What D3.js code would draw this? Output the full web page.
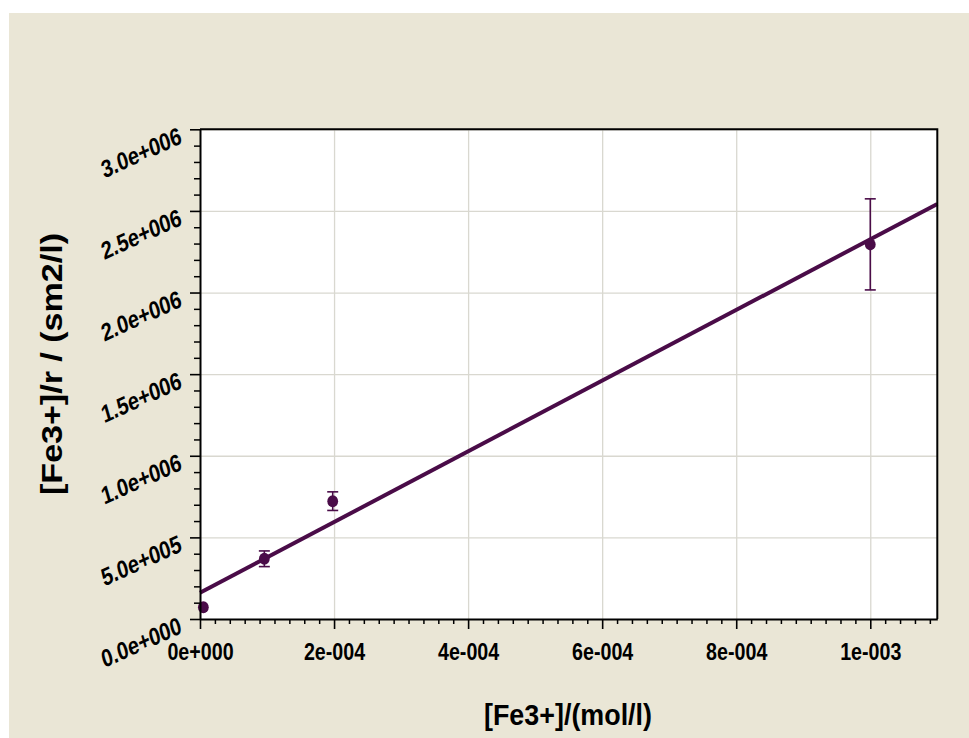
<!DOCTYPE html>
<html>
<head>
<meta charset="utf-8">
<script src="https://cdn.jsdelivr.net/npm/d3@7"></script>
<style>
  html, body { margin: 0; padding: 0; background: #ffffff; }
  svg { display: block; }
  text { font-family: "Liberation Sans", Arial, sans-serif; font-weight: bold; fill: #000; }
</style>
</head>
<body>
<script>
// Measured points: Fe3+ concentration vs [Fe3+]/r, with standard deviations
const concentrations = [5e-6, 9.6e-5, 1.98e-4, 1e-3];
const ratios = [0.072e6, 0.369e6, 0.722e6, 2.295e6];
const ratioErrors = [0, 0.048e6, 0.057e6, 0.279e6];

// Linear fit: ratio = intercept + slope * concentration
const fitIntercept = 1.61e5;
const fitSlope = 2.165e9;

const xTicks = [0, 2e-4, 4e-4, 6e-4, 8e-4, 1e-3];
const xTickLabels = ["0e+000", "2e-004", "4e-004", "6e-004", "8e-004", "1e-003"];
const yTicks = [0, 0.5e6, 1.0e6, 1.5e6, 2.0e6, 2.5e6, 3.0e6];
const yTickLabels = ["0.0e+000", "5.0e+005", "1.0e+006", "1.5e+006", "2.0e+006", "2.5e+006", "3.0e+006"];

const xDomain = [0, 1.1e-3];
const yDomain = [0, 3.0e6];

const W = 969, H = 738;
const plot = { left: 200, top: 129.3, right: 937.3, bottom: 619 };
const ink = "#4a0c48";

const svg = d3.select("body").append("svg").attr("width", W).attr("height", H);

// page background panel
svg.append("rect").attr("x", 9).attr("y", 13).attr("width", W - 9).attr("height", H - 13)
  .attr("fill", "#eae6d6");
svg.append("rect").attr("x", plot.left).attr("y", plot.top)
  .attr("width", plot.right - plot.left).attr("height", plot.bottom - plot.top)
  .attr("fill", "#ffffff");

const x = d3.scaleLinear().domain(xDomain).range([plot.left, plot.right]);
const y = d3.scaleLinear().domain(yDomain).range([plot.bottom, plot.top]);

// grid lines
svg.append("g").attr("transform", `translate(0,${plot.bottom})`)
  .call(d3.axisBottom(x).tickValues(xTicks.filter(d => d > 0)).tickSize(-(plot.bottom - plot.top)).tickFormat(""))
  .call(g => g.select(".domain").remove())
  .call(g => g.selectAll("line").attr("stroke", "#d9d8d0").attr("stroke-width", 1.3));
svg.append("g").attr("transform", `translate(${plot.left},0)`)
  .call(d3.axisLeft(y).tickValues(yTicks.filter(d => d > 0)).tickSize(-(plot.right - plot.left)).tickFormat(""))
  .call(g => g.select(".domain").remove())
  .call(g => g.selectAll("line").attr("stroke", "#d9d8d0").attr("stroke-width", 1.3));

// minor tick positions: nine steps between x majors, five between y majors
const xMinor = [];
for (let m = 0; m < xDomain[1]; m += 2e-4) {
  for (let k = 1; k < 9; k++) {
    const v = m + k * 2e-4 / 9;
    if (v < xDomain[1]) xMinor.push(v);
  }
}
const yMinor = [];
for (let m = 0; m < yDomain[1]; m += 0.5e6) {
  for (let k = 1; k < 5; k++) yMinor.push(m + k * 1e5);
}

// fitted line
const fitLine = d3.line().x(d => x(d)).y(d => y(fitIntercept + fitSlope * d));
svg.append("path").datum(xDomain).attr("d", fitLine)
  .attr("fill", "none").attr("stroke", ink).attr("stroke-width", 4);

// error bars
const pts = concentrations.map((c, i) => ({ c, v: ratios[i], e: ratioErrors[i] }));
const eb = svg.append("g").attr("stroke", ink).attr("stroke-width", 1.6).attr("fill", "none");
pts.filter(p => p.e > 0).forEach(p => {
  eb.append("line").attr("x1", x(p.c)).attr("x2", x(p.c)).attr("y1", y(p.v - p.e)).attr("y2", y(p.v + p.e));
  eb.append("line").attr("x1", x(p.c) - 5.5).attr("x2", x(p.c) + 5.5).attr("y1", y(p.v - p.e)).attr("y2", y(p.v - p.e));
  eb.append("line").attr("x1", x(p.c) - 5.5).attr("x2", x(p.c) + 5.5).attr("y1", y(p.v + p.e)).attr("y2", y(p.v + p.e));
});

// markers
svg.append("g").selectAll("ellipse").data(pts).join("ellipse")
  .attr("cx", d => x(d.c)).attr("cy", d => y(d.v)).attr("rx", 5.4).attr("ry", 6).attr("fill", ink);

// frame (top and right)
svg.append("path")
  .attr("d", `M${plot.left},${plot.top}H${plot.right}V${plot.bottom}`)
  .attr("fill", "none").attr("stroke", "#000").attr("stroke-width", 2);

// x axis
const xAxisG = svg.append("g").attr("transform", `translate(0,${plot.bottom})`);
xAxisG.call(d3.axisBottom(x).tickValues(xMinor).tickSize(5).tickFormat("").tickSizeOuter(0))
  .call(g => g.select(".domain").remove())
  .call(g => g.selectAll("line").attr("stroke", "#000").attr("stroke-width", 1.5));
const xMajor = svg.append("g").attr("transform", `translate(0,${plot.bottom})`)
  .call(d3.axisBottom(x).tickValues(xTicks).tickSize(10).tickSizeOuter(0)
    .tickFormat((d, i) => xTickLabels[i]));
xMajor.select(".domain").attr("stroke", "#000").attr("stroke-width", 2);
xMajor.selectAll(".tick line").attr("stroke", "#000").attr("stroke-width", 1.6);
xMajor.selectAll(".tick text")
  .attr("font-size", 24).attr("font-family", "'Liberation Sans', Arial, sans-serif")
  .attr("font-weight", "bold").attr("fill", "#000")
  .attr("y", 0).attr("dy", null)
  .attr("transform", "translate(0,41) scale(0.82,1)");

// y axis
svg.append("g").attr("transform", `translate(${plot.left},0)`)
  .call(d3.axisLeft(y).tickValues(yMinor).tickSize(6).tickFormat("").tickSizeOuter(0))
  .call(g => g.select(".domain").remove())
  .call(g => g.selectAll("line").attr("stroke", "#000").attr("stroke-width", 1.5));
const yMajor = svg.append("g").attr("transform", `translate(${plot.left},0)`)
  .call(d3.axisLeft(y).tickValues(yTicks).tickSize(10).tickSizeOuter(0)
    .tickFormat((d, i) => yTickLabels[i]));
yMajor.select(".domain").attr("stroke", "#000").attr("stroke-width", 2);
yMajor.selectAll(".tick line").attr("stroke", "#000").attr("stroke-width", 1.6);
yMajor.selectAll(".tick text")
  .attr("font-size", 20).attr("font-family", "'Liberation Sans', Arial, sans-serif")
  .attr("font-weight", "bold").attr("fill", "#000")
  .attr("x", 0).attr("dy", null).attr("text-anchor", "end")
  .attr("transform", "translate(-17,13) scale(1,1.24) rotate(-20)");

// axis titles
svg.append("text")
  .attr("x", 568).attr("y", 725).attr("text-anchor", "middle")
  .attr("font-size", 30).attr("textLength", 168).attr("lengthAdjust", "spacingAndGlyphs")
  .text("[Fe3+]/(mol/l)");
svg.append("text")
  .attr("transform", "translate(62,364) rotate(-90)").attr("text-anchor", "middle")
  .attr("font-size", 30).attr("textLength", 262).attr("lengthAdjust", "spacingAndGlyphs")
  .text("[Fe3+]/r / (sm2/l)");
</script>
</body>
</html>
